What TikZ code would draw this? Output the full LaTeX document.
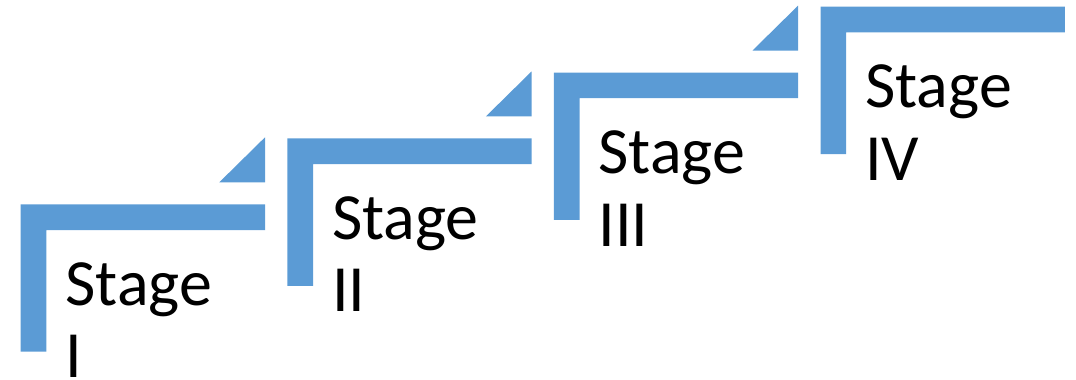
\documentclass[tikz,border=0pt]{standalone}
\usepackage{fontspec}
\setmainfont{Carlito}
\definecolor{stepblue}{HTML}{5B9BD5}
\tikzset{
  corner/.style={fill=stepblue, draw=none},
  stagelabel/.style={anchor=base west, inner sep=0pt, align=left,
    font=\fontsize{49.5}{54.4}\selectfont, text=black},
}
\begin{document}
\begin{tikzpicture}[x=0.75pt, y=-0.75pt]
  \useasboundingbox (0,0) rectangle (1076,379);
  \clip (0,0) rectangle (1076,379);
  % one L-shaped step per stage, with a small wedge above each step but the last
  \foreach \i/\txt in {0/I, 1/II, 2/III, 3/IV} {
    \pgfmathsetmacro{\L}{20.7 + 266.6*\i}
    \pgfmathsetmacro{\T}{204.3 - 65.9*\i}
    \fill[corner] (\L,\T) -- ++(244.3,0) -- ++(0,25.7) -- ++(-218.6,0)
      -- ++(0,121.7) -- ++(-25.7,0) -- cycle;
    \ifnum\i<3
      \fill[corner] (\L+244.3,\T-67) -- (\L+244.3,\T-22) -- (\L+198.6,\T-22) -- cycle;
    \fi
    % the base anchor of a two-line label sits on its last line
    \node[stagelabel] (stage\i) at (\L+44.5,\T+173.5) {Stage\\\txt};
  }
\end{tikzpicture}
\end{document}
